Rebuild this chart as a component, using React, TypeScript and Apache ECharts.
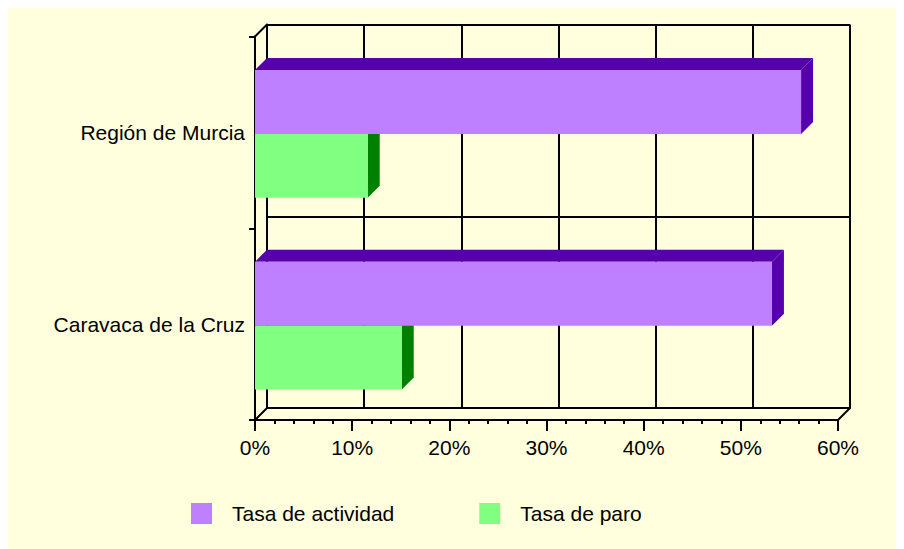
import React, { useEffect, useRef } from 'react';
import * as echarts from 'echarts';

const categories = ['Caravaca de la Cruz', 'Región de Murcia'];
const tasaActividad = [53.2, 56.2];
const tasaParo = [15.1, 11.6];
const xMin = 0;
const xMax = 60;
const xStep = 10;
const seriesNames = ['Tasa de actividad', 'Tasa de paro'];

const DEPTH = 12;
const FONT = "'Liberation Sans', Arial, sans-serif";
const FS = 21;
const BG = '#FFFFDD';
const PURPLE = '#BF80FF';
const PURPLE_DARK = '#5500AA';
const GREEN = '#80FF80';
const GREEN_DARK = '#008000';

function bar3D(front: string, dark: string, slot: number) {
  return (params: any, api: any) => {
    const v = api.value(0);
    const c = api.value(1);
    const base = api.coord([0, c]);
    const end = api.coord([v, c]);
    const band = api.size([0, 1])[1];
    const h = band / 3;
    const y0 = (slot === 0 ? base[1] - h : base[1]) + 1.5;
    const y1 = y0 + h;
    const x0 = base[0];
    const x1 = end[0];
    return {
      type: 'group',
      children: [
        { type: 'polygon', shape: { points: [[x0, y0], [x0 + DEPTH, y0 - DEPTH], [x1 + DEPTH, y0 - DEPTH], [x1, y0]] }, style: { fill: dark } },
        { type: 'polygon', shape: { points: [[x1, y0], [x1 + DEPTH, y0 - DEPTH], [x1 + DEPTH, y1 - DEPTH], [x1, y1]] }, style: { fill: dark } },
        { type: 'rect', shape: { x: x0, y: y0, width: x1 - x0, height: h }, style: { fill: front } },
      ],
    };
  };
}

function frame(params: any, api: any) {
  const cs = params.coordSys;
  const x = cs.x, y = cs.y, w = cs.width, h = cs.height;
  const st = { stroke: '#000', lineWidth: 2 };
  return {
    type: 'group',
    children: [
      { type: 'line', shape: { x1: x, y1: y + h, x2: x + DEPTH, y2: y + h - DEPTH }, style: st },
      { type: 'line', shape: { x1: x + w, y1: y + h, x2: x + w + DEPTH, y2: y + h - DEPTH }, style: st },
      { type: 'line', shape: { x1: x, y1: y, x2: x + DEPTH, y2: y - DEPTH }, style: st },
    ],
  };
}

export default function App() {
  const ref = useRef<HTMLDivElement>(null);
  useEffect(() => {
    if (!ref.current) return;
    const chart = echarts.init(ref.current, null, { renderer: 'svg' });
    const black = { color: '#000', width: 2 };
    chart.setOption({
      animation: false,
      backgroundColor: BG,
      textStyle: { fontFamily: FONT, color: '#000' },
      grid: [
        { left: 247, top: 28.5, width: 583, height: 383.5 },
        { left: 259, top: 16.5, width: 583, height: 383.5 },
      ],
      xAxis: [
        {
          type: 'value', gridIndex: 0, min: xMin, max: xMax, interval: xStep,
          axisLine: { show: true, lineStyle: black },
          axisTick: { show: true, length: 11, lineStyle: black },
          minorTick: { show: true, splitNumber: 5, length: 4, lineStyle: { color: '#000', width: 2 } },
          splitLine: { show: false },
          axisLabel: { formatter: '{value}%', fontSize: FS, color: '#000', fontFamily: FONT, margin: 17 },
        },
        {
          type: 'value', gridIndex: 1, min: xMin, max: xMax, interval: xStep,
          axisLine: { show: true, lineStyle: black },
          axisTick: { show: false },
          axisLabel: { show: false },
          splitLine: { show: true, lineStyle: black },
        },
      ],
      yAxis: [
        {
          type: 'category', gridIndex: 0, data: categories,
          axisLine: { show: true, lineStyle: black },
          axisTick: { show: true, length: 6, lineStyle: black },
          splitLine: { show: false },
          axisLabel: { fontSize: FS, color: '#000', fontFamily: FONT, margin: 10 },
        },
        {
          type: 'category', gridIndex: 1, data: categories,
          axisLine: { show: true, lineStyle: black },
          axisTick: { show: false },
          axisLabel: { show: false },
          splitLine: { show: true, lineStyle: black },
        },
      ],
      legend: {
        data: seriesNames,
        left: 178, top: 490,
        icon: 'rect', itemWidth: 21, itemHeight: 21, itemGap: 85,
        textStyle: { fontSize: FS, color: '#000', fontFamily: FONT, padding: [0, 0, 0, 15] },
      },
      series: [
        {
          type: 'custom', name: 'frame', xAxisIndex: 0, yAxisIndex: 0,
          data: [[0, 0]], renderItem: frame, silent: true, z: 1,
        },
        {
          type: 'custom', name: seriesNames[1], xAxisIndex: 0, yAxisIndex: 0,
          itemStyle: { color: GREEN },
          data: tasaParo.map((v, i) => [v, i]),
          encode: { x: 0, y: 1 },
          renderItem: bar3D(GREEN, GREEN_DARK, 1), z: 2,
        },
        {
          type: 'custom', name: seriesNames[0], xAxisIndex: 0, yAxisIndex: 0,
          itemStyle: { color: PURPLE },
          data: tasaActividad.map((v, i) => [v, i]),
          encode: { x: 0, y: 1 },
          renderItem: bar3D(PURPLE, PURPLE_DARK, 0), z: 3,
        },
      ],
    });
    return () => chart.dispose();
  }, []);
  return <div ref={ref} style={{ width: 896, height: 541 }} />;
}
